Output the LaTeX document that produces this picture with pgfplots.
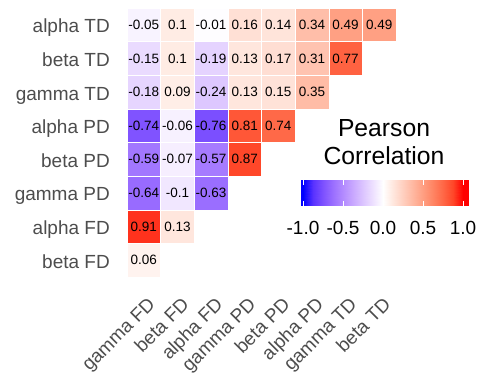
\documentclass[border=0pt]{standalone}
\usepackage{fontspec}
\setmainfont{Liberation Sans}
\usepackage{pgfplots}
\pgfplotsset{compat=1.18}
\usepackage{pgfplotstable}
\definecolor{axtext}{RGB}{77,77,77}
\pgfplotsset{colormap={corr}{
 rgb255=(0,0,255) rgb255=(89,50,255) rgb255=(126,81,255)
 rgb255=(155,111,255) rgb255=(179,139,255) rgb255=(201,168,255) rgb255=(220,197,255)
 rgb255=(238,225,255) rgb255=(255,255,255) rgb255=(255,231,222) rgb255=(255,207,191)
 rgb255=(255,183,160) rgb255=(255,158,129) rgb255=(255,132,99) rgb255=(255,103,70)
 rgb255=(255,70,40) rgb255=(255,0,0)
}}
\pgfplotstableread{
x y v
0 7 -0.05
1 7 0.10
2 7 -0.01
3 7 0.16
4 7 0.14
5 7 0.34
6 7 0.49
7 7 0.49
0 6 -0.15
1 6 0.10
2 6 -0.19
3 6 0.13
4 6 0.17
5 6 0.31
6 6 0.77
0 5 -0.18
1 5 0.09
2 5 -0.24
3 5 0.13
4 5 0.15
5 5 0.35
0 4 -0.74
1 4 -0.06
2 4 -0.76
3 4 0.81
4 4 0.74
0 3 -0.59
1 3 -0.07
2 3 -0.57
3 3 0.87
0 2 -0.64
1 2 -0.10
2 2 -0.63
0 1 0.91
1 1 0.13
0 0 0.06
}\corrdata
\begin{document}
\begin{tikzpicture}
\path[use as bounding box] (0,0) rectangle (480bp,375bp);
\begin{axis}[
  at={(127bp,98bp)}, anchor=south west,
  scale only axis, width=269bp, height=269bp,
  xmin=-0.5, xmax=7.5, ymin=-0.5, ymax=7.5,
  axis line style={draw=none}, major tick length=0pt,
  xtick={0,...,7}, ytick={0,...,7},
  xticklabels={gamma FD, beta FD, alpha FD, gamma PD, beta PD, alpha PD, gamma TD, beta TD},
  yticklabels={beta FD, alpha FD, gamma PD, beta PD, alpha PD, gamma TD, beta TD, alpha TD},
  yticklabel style={font=\fontsize{19bp}{22bp}\selectfont, text=axtext, anchor=base east, inner sep=0pt, xshift=-17bp, yshift=-8bp},
  xticklabel style={font=\fontsize{19bp}{22bp}\selectfont, text=axtext, xshift=3bp, yshift=-19bp, rotate=45, anchor=north east, inner sep=0pt},
  colormap name=corr, point meta min=-1, point meta max=1,
  clip=false,
]
\addplot[scatter, only marks, mark=square*, mark size=16.8bp, scatter src=explicit,
  scatter/use mapped color={draw=white, fill=mapped color},
  line width=0.4bp,
] table[x=x, y=y, meta=v] {\corrdata};
\addplot[only marks, mark=none, point meta=explicit,
  nodes near coords={\pgfmathprintnumber[fixed, precision=2, assume math mode=true]{\pgfplotspointmeta}},
  nodes near coords align={center},
  every node near coord/.append style={font=\fontsize{13.5bp}{15bp}\selectfont, text=black, inner sep=0pt},
] table[x=x, y=y, meta=v] {\corrdata};
\end{axis}
\begin{axis}[
  at={(301bp,169bp)}, anchor=south west,
  scale only axis, width=167bp, height=26bp,
  xmin=-1.025, xmax=1.0625, ymin=0, ymax=1,
  colormap name=corr, point meta min=-1, point meta max=1,
  xtick={-1,-0.5,0,0.5,1}, xticklabels={-1.0,-0.5,0.0,0.5,1.0}, ytick=\empty,
  xtick pos=both, xticklabel pos=lower,
  tick align=inside, major tick length=5bp,
  xtick style={draw=white, line width=1bp},
  axis line style={draw=none},
  axis on top,
  xticklabel style={font=\fontsize{19bp}{22bp}\selectfont, text=black, anchor=base, yshift=-29bp, inner sep=0pt},
]
\addplot[patch, shader=interp, point meta=explicit] coordinates {
(-1.025,0) [-1] (-1,0) [-1] (-1,1) [-1]
(-1.025,0) [-1] (-1,1) [-1] (-1.025,1) [-1]
(-1,0) [-1] (-0.875,0) [-0.875] (-0.875,1) [-0.875]
(-1,0) [-1] (-0.875,1) [-0.875] (-1,1) [-1]
(-0.875,0) [-0.875] (-0.75,0) [-0.75] (-0.75,1) [-0.75]
(-0.875,0) [-0.875] (-0.75,1) [-0.75] (-0.875,1) [-0.875]
(-0.75,0) [-0.75] (-0.625,0) [-0.625] (-0.625,1) [-0.625]
(-0.75,0) [-0.75] (-0.625,1) [-0.625] (-0.75,1) [-0.75]
(-0.625,0) [-0.625] (-0.5,0) [-0.5] (-0.5,1) [-0.5]
(-0.625,0) [-0.625] (-0.5,1) [-0.5] (-0.625,1) [-0.625]
(-0.5,0) [-0.5] (-0.375,0) [-0.375] (-0.375,1) [-0.375]
(-0.5,0) [-0.5] (-0.375,1) [-0.375] (-0.5,1) [-0.5]
(-0.375,0) [-0.375] (-0.25,0) [-0.25] (-0.25,1) [-0.25]
(-0.375,0) [-0.375] (-0.25,1) [-0.25] (-0.375,1) [-0.375]
(-0.25,0) [-0.25] (-0.125,0) [-0.125] (-0.125,1) [-0.125]
(-0.25,0) [-0.25] (-0.125,1) [-0.125] (-0.25,1) [-0.25]
(-0.125,0) [-0.125] (0,0) [0] (0,1) [0]
(-0.125,0) [-0.125] (0,1) [0] (-0.125,1) [-0.125]
(0,0) [0] (0.125,0) [0.125] (0.125,1) [0.125]
(0,0) [0] (0.125,1) [0.125] (0,1) [0]
(0.125,0) [0.125] (0.25,0) [0.25] (0.25,1) [0.25]
(0.125,0) [0.125] (0.25,1) [0.25] (0.125,1) [0.125]
(0.25,0) [0.25] (0.375,0) [0.375] (0.375,1) [0.375]
(0.25,0) [0.25] (0.375,1) [0.375] (0.25,1) [0.25]
(0.375,0) [0.375] (0.5,0) [0.5] (0.5,1) [0.5]
(0.375,0) [0.375] (0.5,1) [0.5] (0.375,1) [0.375]
(0.5,0) [0.5] (0.625,0) [0.625] (0.625,1) [0.625]
(0.5,0) [0.5] (0.625,1) [0.625] (0.5,1) [0.5]
(0.625,0) [0.625] (0.75,0) [0.75] (0.75,1) [0.75]
(0.625,0) [0.625] (0.75,1) [0.75] (0.625,1) [0.625]
(0.75,0) [0.75] (0.875,0) [0.875] (0.875,1) [0.875]
(0.75,0) [0.75] (0.875,1) [0.875] (0.75,1) [0.75]
(0.875,0) [0.875] (1,0) [1] (1,1) [1]
(0.875,0) [0.875] (1,1) [1] (0.875,1) [0.875]
(1,0) [1] (1.0625,0) [1] (1.0625,1) [1]
(1,0) [1] (1.0625,1) [1] (1,1) [1]
};
\end{axis}
\node[anchor=base, font=\fontsize{24.7bp}{28bp}\selectfont] at (384bp,238bp) {Pearson};
\node[anchor=base, font=\fontsize{24.7bp}{28bp}\selectfont] at (384bp,210bp) {Correlation};
\end{tikzpicture}
\end{document}
